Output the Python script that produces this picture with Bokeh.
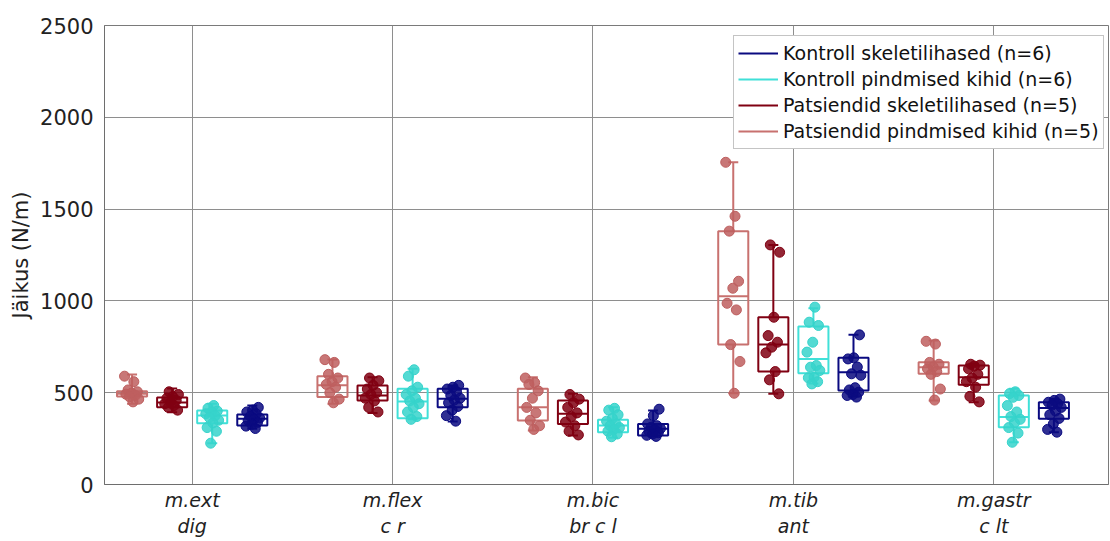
import numpy as np
from bokeh.plotting import figure
from bokeh.models import FixedTicker, Legend, LegendItem, ColumnDataSource, Range1d
from bokeh.embed import file_html
from bokeh.resources import INLINE

# ---------------- data ----------------
muscles = ["m.ext\ndig", "m.flex\nc r", "m.bic\nbr c l", "m.tib\nant", "m.gastr\nc lt"]
y_ticks = [0, 500, 1000, 1500, 2000, 2500]

series_names = [
    "Patsiendid pindmised kihid (n=5)",
    "Patsiendid skeletilihased (n=5)",
    "Kontroll pindmised kihid (n=6)",
    "Kontroll skeletilihased (n=6)",
]

# Box statistics per muscle (lower whisker, Q1, median, Q3, upper whisker)
pp_wlo = [440, 440, 294, 497, 458]
pp_q1 = [479, 476, 349, 762, 603]
pp_med = [494, 540, 421, 1026, 639]
pp_q3 = [508, 590, 521, 1380, 666]
pp_whi = [599, 681, 584, 1755, 784]

ps_wlo = [394, 390, 267, 494, 448]
ps_q1 = [421, 458, 330, 615, 543]
ps_med = [446, 485, 385, 762, 584]
ps_q3 = [474, 539, 458, 911, 648]
ps_whi = [523, 584, 494, 1305, 657]

kp_wlo = [225, 355, 255, 550, 230]
kp_q1 = [334, 361, 285, 606, 312]
kp_med = [376, 452, 321, 684, 367]
kp_q3 = [403, 521, 352, 860, 485]
kp_whi = [440, 630, 421, 960, 521]

ks_wlo = [303, 343, 262, 479, 285]
ks_q1 = [321, 421, 267, 512, 358]
ks_med = [358, 467, 303, 612, 416]
ks_q3 = [381, 521, 330, 690, 448]
ks_whi = [430, 539, 403, 815, 467]

# Individual measurements per muscle
pp_pts = [
    [590, 560, 515, 505, 498, 492, 485, 478, 465, 450],
    [680, 665, 600, 580, 560, 545, 530, 500, 465, 445],
    [580, 555, 545, 510, 470, 420, 390, 350, 320, 300],
    [1755, 1461, 1380, 1107, 1069, 987, 951, 762, 670, 497],
    [780, 765, 665, 655, 640, 630, 615, 600, 520, 460],
]
ps_pts = [
    [505, 490, 478, 470, 458, 448, 440, 430, 420, 405],
    [580, 565, 540, 520, 500, 490, 470, 455, 420, 395],
    [490, 465, 445, 420, 390, 370, 340, 320, 290, 270],
    [1305, 1265, 911, 811, 775, 748, 717, 615, 570, 494],
    [655, 650, 645, 630, 600, 580, 560, 530, 480, 450],
]
kp_pts = [
    [430, 415, 400, 395, 385, 375, 365, 350, 335, 310, 290, 225],
    [625, 590, 530, 510, 490, 470, 455, 440, 420, 395, 370, 355],
    [415, 405, 380, 360, 345, 330, 320, 310, 300, 290, 275, 260],
    [966, 884, 866, 775, 721, 648, 639, 621, 584, 581, 560, 548],
    [505, 495, 485, 475, 430, 395, 370, 355, 335, 310, 280, 230],
]
ks_pts = [
    [420, 405, 395, 385, 372, 362, 355, 348, 338, 328, 318, 305],
    [540, 530, 520, 505, 485, 470, 460, 445, 425, 405, 375, 345],
    [410, 375, 330, 320, 312, 305, 298, 290, 282, 275, 268, 262],
    [815, 690, 684, 640, 603, 595, 527, 515, 503, 490, 485, 476],
    [465, 458, 448, 440, 432, 420, 400, 380, 360, 330, 300, 285],
]

# ---------------- styling ----------------
FONT = "DejaVu Sans"
TXT = "#222222"
GRID = "#8e8e8e"
line_colors = ["#C8716F", "#800012", "#40E0D8", "#0A0A80"]
pt_colors = ["#BE5F5F", "#800012", "#36D3CB", "#0A0A80"]
offsets = [-0.3, -0.1, 0.1, 0.3]
box_w = 0.15
cap_w = 0.05

stats = [
    (pp_wlo, pp_q1, pp_med, pp_q3, pp_whi, pp_pts),
    (ps_wlo, ps_q1, ps_med, ps_q3, ps_whi, ps_pts),
    (kp_wlo, kp_q1, kp_med, kp_q3, kp_whi, kp_pts),
    (ks_wlo, ks_q1, ks_med, ks_q3, ks_whi, ks_pts),
]

p = figure(width=1110, height=541, output_backend="svg", toolbar_location=None,
           x_range=Range1d(0.5625, 5.5725), y_range=Range1d(0, 2500),
           min_border_left=104, min_border_right=2, min_border_top=25, min_border_bottom=57)
p.background_fill_color = "white"
p.border_fill_color = "white"
p.outline_line_color = "#7a7a7a"
p.outline_line_width = 1

pos = np.arange(1, len(muscles) + 1)
whisker_renderers = []
for k, (wlo, q1, med, q3, whi, pts) in enumerate(stats):
    xc = pos + offsets[k]
    lc = line_colors[k]
    src = ColumnDataSource(dict(
        x=xc, left=xc - box_w / 2, right=xc + box_w / 2,
        cl=xc - cap_w / 2, cr=xc + cap_w / 2,
        wlo=wlo, q1=q1, med=med, q3=q3, whi=whi))
    p.quad(left="left", right="right", bottom="q1", top="q3", source=src,
           fill_color=None, line_color=lc, line_width=2)
    p.segment(x0="left", x1="right", y0="med", y1="med", source=src,
              line_color=lc, line_width=2)
    r = p.segment(x0="x", x1="x", y0="q3", y1="whi", source=src,
                  line_color=lc, line_width=2)
    p.segment(x0="x", x1="x", y0="q1", y1="wlo", source=src,
              line_color=lc, line_width=2)
    p.segment(x0="cl", x1="cr", y0="whi", y1="whi", source=src,
              line_color=lc, line_width=2)
    p.segment(x0="cl", x1="cr", y0="wlo", y1="wlo", source=src,
              line_color=lc, line_width=2)
    whisker_renderers.append(r)
    # points
    px, py = [], []
    for i, vals in enumerate(pts):
        n = len(vals)
        jit = ((np.arange(n) * 0.618034 + 0.3 * k) % 1 - 0.5) * 0.075
        px.extend(list(xc[i] + jit))
        py.extend(vals)
    p.scatter(px, py, marker="circle", size=10, fill_color=pt_colors[k],
              fill_alpha=0.85, line_color=pt_colors[k], line_alpha=1.0, line_width=1)

# grid
p.xgrid.ticker = FixedTicker(ticks=list(pos))
p.ygrid.ticker = FixedTicker(ticks=y_ticks)
for g in (p.xgrid, p.ygrid):
    g.grid_line_color = GRID
    g.grid_line_width = 1

# axes
p.xaxis.ticker = FixedTicker(ticks=list(pos))
p.xaxis.major_label_overrides = {int(v): lab for v, lab in zip(pos, muscles)}
p.xaxis.major_label_text_font_style = "italic"
p.xaxis.major_label_text_font = FONT
p.xaxis.major_label_text_font_size = "19px"
p.xaxis.major_label_text_color = TXT
p.xaxis.major_label_standoff = 4

p.yaxis.ticker = FixedTicker(ticks=y_ticks)
p.yaxis.major_label_text_font = FONT
p.yaxis.major_label_text_font_size = "21px"
p.yaxis.major_label_text_color = TXT
p.yaxis.major_label_standoff = 11
p.yaxis.axis_label = "Jäikus (N/m)"
p.yaxis.axis_label_text_font = FONT
p.yaxis.axis_label_text_font_size = "21px"
p.yaxis.axis_label_text_font_style = "normal"
p.yaxis.axis_label_text_color = TXT
p.yaxis.axis_label_standoff = 4

for ax in (p.xaxis, p.yaxis):
    ax.axis_line_color = "#6e6e6e"
    ax.major_tick_in = 0
    ax.major_tick_out = 0
    ax.minor_tick_line_color = None

# legend
order = [3, 2, 1, 0]
legend = Legend(items=[LegendItem(label=series_names[k], renderers=[whisker_renderers[k]]) for k in order],
                location=(629, 335))
legend.label_text_font = FONT
legend.label_text_font_size = "19px"
legend.label_text_color = "#111111"
legend.glyph_width = 40
legend.glyph_height = 26
legend.label_height = 26
legend.label_standoff = 5
legend.spacing = 0
legend.padding = 4
legend.margin = 0
legend.border_line_color = "#8a8a8a"
legend.border_line_width = 1
legend.background_fill_color = "white"
legend.background_fill_alpha = 1.0
p.add_layout(legend)

open("out.html", "w").write(file_html(p, INLINE))
